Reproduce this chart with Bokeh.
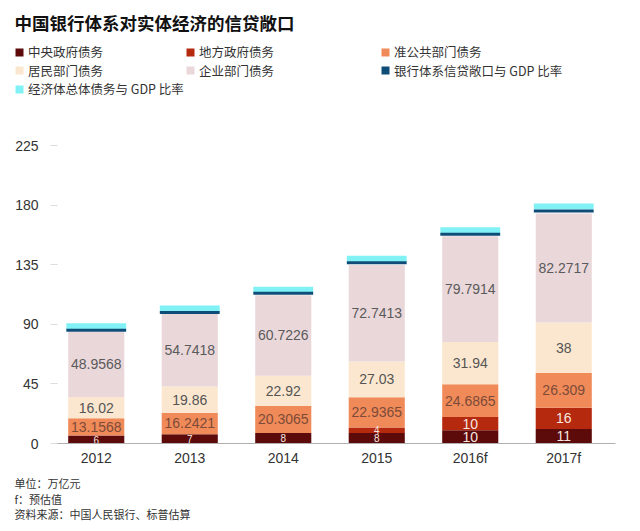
from bokeh.plotting import figure
from bokeh.models import Range1d, FixedTicker, Legend, LegendItem, ColumnDataSource, Label
from bokeh.embed import file_html
from bokeh.resources import INLINE
from bokeh.core.properties import value

# ---- data ----
years = ["2012", "2013", "2014", "2015", "2016f", "2017f"]
central = [6, 7, 8, 8, 10, 11]
local = [0, 0, 0, 4, 10, 16]
quasi = [13.1568, 16.2421, 20.3065, 22.9365, 24.6865, 26.309]
household = [16.02, 19.86, 22.92, 27.03, 31.94, 38]
corporate = [48.9568, 54.7418, 60.7226, 72.7413, 79.7914, 82.2717]
bank_ratio = [85.5, 99, 113.5, 136.5, 158, 175.5]
total_ratio = [88.5, 102, 116, 139.5, 161, 179]
y_ticks = [0, 45, 90, 135, 180, 225]

series_names = ["中央政府债务", "地方政府债务", "准公共部门债务", "居民部门债务", "企业部门债务",
                "银行体系信贷敞口与 GDP 比率", "经济体总体债务与 GDP 比率"]
title_text = "中国银行体系对实体经济的信贷敞口"
notes = ["单位：万亿元", "f：预估值", "资料来源：中国人民银行、标普估算"]

# ---- styles / layout (pixels) ----
stack_colors = ["#5c0a0a", "#b5290f", "#f08a58", "#fbe7cf", "#ead7da"]
bank_color = "#0f4d78"
total_color = "#80f2f6"
label_colors = ["#f6e6e0", "#f6e6e0", "#7d4a38", "#555555", "#5a5a5a"]
CJK = "Noto Sans CJK SC"
LAT = "Liberation Sans"

W, H = 632, 525          # canvas == plot frame
CAT_PX = 93.5            # pixels per category
FIRST_X = 95.75          # pixel x of first category centre
UNIT_PX = 1.3244         # pixels per value unit
BASE_Y = 443             # pixel y of value 0

xs = -FIRST_X / CAT_PX
xe = xs + W / CAT_PX
ye = BASE_Y / UNIT_PX
ys = ye - H / UNIT_PX


def px_to_x(px):
    return xs + px / CAT_PX


xi = list(range(len(years)))
keys = ["central", "local", "quasi", "household", "corporate"]
src = ColumnDataSource(dict(xi=xi, central=central, local=local, quasi=quasi,
                            household=household, corporate=corporate))
p = figure(width=W, height=H, x_range=Range1d(xs, xe), y_range=Range1d(ys, ye),
           toolbar_location=None, output_backend="svg",
           min_border=0, min_border_left=0, min_border_right=0,
           min_border_top=0, min_border_bottom=0)
stack_rs = p.vbar_stack(keys, x="xi", width=0.6, color=stack_colors,
                        line_color=None, source=src)

r_total = p.rect(x=xi, y=total_ratio, width=0.64, height=6, height_units="screen",
                 fill_color=total_color, line_color=None)
r_bank = p.rect(x=xi, y=bank_ratio, width=0.64, height=3, height_units="screen",
                fill_color=bank_color, line_color=None)

# segment labels
series = [central, local, quasi, household, corporate]
tx, ty, tt, tc, ts = [], [], [], [], []
for j in xi:
    base = 0.0
    for k, s in enumerate(series):
        v = s[j]
        if v > 0:
            tx.append(j)
            ty.append(base + v / 2)
            tt.append(f"{v:g}")
            tc.append(label_colors[k])
            ts.append("10px" if v < 9 else "14px")
        base += v
p.text(x=tx, y=ty, text=tt, text_color=tc, text_font_size=ts, text_font=value(LAT),
       text_align="center", text_baseline="middle")

p.xgrid.grid_line_color = None
p.ygrid.grid_line_color = None
p.outline_line_color = None

# x axis fixed at value 0
p.xaxis.fixed_location = 0
p.xaxis.ticker = FixedTicker(ticks=xi)
p.xaxis.major_label_overrides = {i: y for i, y in zip(xi, years)}
p.xaxis.bounds = (px_to_x(52), px_to_x(615))
p.xaxis.axis_line_color = "#b0b0b0"
p.xaxis.major_tick_line_color = None
p.xaxis.major_tick_out = 0
p.xaxis.major_tick_in = 0
p.xaxis.minor_tick_line_color = None
p.xaxis.major_label_standoff = 6
p.xaxis.major_label_text_font_size = "14px"
p.xaxis.major_label_text_font = LAT
p.xaxis.major_label_text_color = "#333333"

# y axis fixed just left of the first bar
p.yaxis.fixed_location = px_to_x(50)
p.yaxis.ticker = FixedTicker(ticks=y_ticks)
p.yaxis.axis_line_color = None
p.yaxis.major_tick_in = 7
p.yaxis.major_tick_out = 0
p.yaxis.major_tick_line_color = "#dddddd"
p.yaxis.minor_tick_line_color = None
p.yaxis.major_label_text_align = "left"
p.yaxis.major_label_standoff = 12
p.yaxis.major_label_text_font_size = "14px"
p.yaxis.major_label_text_font = LAT
p.yaxis.major_label_text_color = "#333333"

# ---- title ----
p.add_layout(Label(x=14, y=H - 22, x_units="screen", y_units="screen",
                   text=title_text, text_font=CJK, text_font_style="bold",
                   text_font_size="17.5px", text_baseline="middle", text_color="#111111"))

# ---- legend: one small legend per entry on a 3-column grid ----
col_x = [14, 185, 380]
row_y = [52, 70.5, 89]
leg_renderers = list(stack_rs) + [r_bank, r_total]
for i, (name, r) in enumerate(zip(series_names, leg_renderers)):
    cx = col_x[i % 3]
    cy = row_y[i // 3]
    lg = Legend(items=[LegendItem(label=name, renderers=[r])],
                location=(cx, H - (cy + 9)),
                orientation="vertical", padding=0, margin=0, spacing=0,
                border_line_color=None, background_fill_alpha=0,
                glyph_width=10, glyph_height=10, label_standoff=4, label_height=10,
                label_text_font=CJK, label_text_font_size="12.5px",
                label_text_color="#333333")
    p.add_layout(lg, "center")

# ---- notes ----
for txt, yy in zip(notes, [482, 498, 513]):
    p.add_layout(Label(x=14, y=H - yy, x_units="screen", y_units="screen",
                       text=txt, text_font=CJK, text_font_size="11px",
                       text_baseline="middle", text_color="#333333"))

open("out.html", "w").write(file_html(p, INLINE))
